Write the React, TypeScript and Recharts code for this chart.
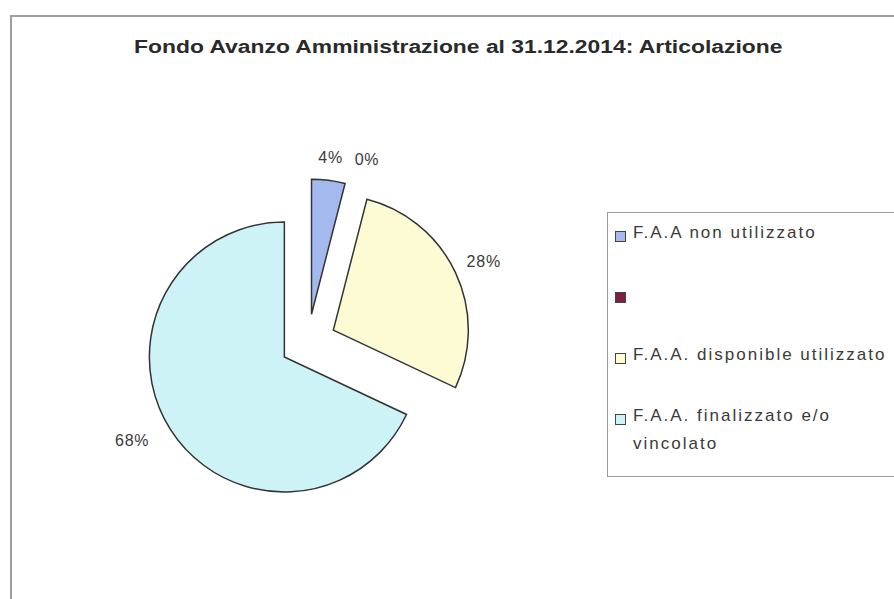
import React from 'react';
import { PieChart, Pie, Cell, Legend } from 'recharts';

const title = 'Fondo Avanzo Amministrazione al 31.12.2014: Articolazione';
const categories = ['F.A.A non utilizzato', '', 'F.A.A. disponible utilizzato', 'F.A.A. finalizzato e/o vincolato'];
const shares = [4, 0, 28, 68];

const sliceColors = ['#a4baee', '#7e1f40', '#fdfbd4', '#cdf3f7'];
const labelNudge = [
  [0, -5],
  [14, -7],
  [12, -3],
  [-23, 2],
];

const data = categories.map((name, i) => ({ name, value: shares[i] }));

const CX = 308;
const CY = 342;
const R = 135;
const EXPLODE = 28;
const RAD = Math.PI / 180;
const FONT = "'Liberation Sans', Arial, sans-serif";

const total = shares.reduce((a, b) => a + b, 0);

// clockwise from 12 o'clock, like Excel
function explodeOffset(index: number) {
  const before = shares.slice(0, index).reduce((a, b) => a + b, 0);
  const mid = ((before + shares[index] / 2) / total) * 360;
  return { dx: Math.sin(mid * RAD) * EXPLODE, dy: -Math.cos(mid * RAD) * EXPLODE };
}

function sliceLabel(target: number) {
  return (props: any) => {
    const { cx, cy, midAngle, outerRadius, index, percent } = props;
    if (index !== target) return null;
    const d = outerRadius + 18;
    const x = cx + d * Math.cos(-midAngle * RAD) + labelNudge[index][0];
    const y = cy + d * Math.sin(-midAngle * RAD) + labelNudge[index][1];
    return (
      <text
        x={x}
        y={y}
        textAnchor="middle"
        dominantBaseline="central"
        fill="#3a3a3a"
        fontSize={16}
        letterSpacing={0.8}
        fontFamily={FONT}
      >
        {Math.round(percent * 100)}%
      </text>
    );
  };
}

function LegendBox() {
  return (
    <div
      style={{
        width: 300,
        height: 265,
        border: '1.5px solid #9a9a9a',
        boxSizing: 'border-box',
        background: '#fff',
        fontFamily: FONT,
        fontSize: 17,
        letterSpacing: 2,
        color: '#3a3a3a',
        paddingTop: 12,
      }}
    >
      {categories.map((name, i) => (
        <div key={i} style={{ display: 'flex', alignItems: 'flex-start', height: 61, paddingLeft: 7 }}>
          <span
            style={{
              display: 'inline-block',
              width: 9,
              height: 9,
              marginTop: 6,
              marginRight: 7,
              background: sliceColors[i],
              border: '1px solid #444',
              flex: 'none',
            }}
          />
          <span style={{ maxWidth: 265, lineHeight: '28px', marginTop: -6 }}>{name}</span>
        </div>
      ))}
    </div>
  );
}

export default function App() {
  return (
    <div style={{ position: 'fixed', left: 0, top: 0, width: 894, height: 599, overflow: 'hidden', background: '#fff' }}>
      <div
        style={{
          position: 'absolute',
          left: 10,
          top: 15,
          width: 900,
          height: 600,
          borderLeft: '2px solid #a0a0a0',
          borderTop: '2px solid #a0a0a0',
        }}
      />
      <div
        style={{
          position: 'absolute',
          left: 0,
          top: 37,
          width: 916,
          textAlign: 'center',
        }}
      >
        <span
          style={{
            display: 'inline-block',
            transform: 'scaleX(1.27)',
            fontFamily: FONT,
            fontWeight: 'bold',
            fontSize: 18,
            color: '#2a2a2a',
          }}
        >
          {title}
        </span>
      </div>
      <div style={{ position: 'absolute', left: 0, top: 0 }}>
        <PieChart width={894} height={599} margin={{ top: 0, right: 0, bottom: 0, left: 0 }}>
          {shares.map((_, target) => {
            const off = explodeOffset(target);
            return (
              <Pie
                key={target}
                data={data}
                dataKey="value"
                nameKey="name"
                cx={CX + off.dx}
                cy={CY + off.dy}
                outerRadius={R}
                startAngle={90}
                endAngle={-270}
                label={sliceLabel(target)}
                labelLine={false}
                legendType="none"
                isAnimationActive={false}
              >
                {data.map((_, i) => (
                  <Cell
                    key={i}
                    fill={i === target ? sliceColors[i] : 'none'}
                    stroke={i === target ? '#333' : 'none'}
                    strokeWidth={1.5}
                  />
                ))}
              </Pie>
            );
          })}
          <Legend
            content={() => <LegendBox />}
            wrapperStyle={{ position: 'absolute', left: 607, top: 212, width: 300 }}
          />
        </PieChart>
      </div>
    </div>
  );
}
